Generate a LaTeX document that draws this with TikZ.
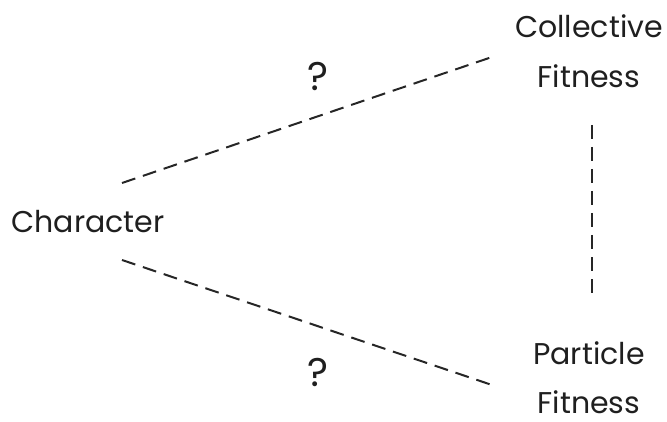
\documentclass[tikz,border=0pt]{standalone}
\usepackage{fontspec}
\setmainfont{Poppins}
\begin{document}
\begin{tikzpicture}[x=1pt,y=1pt,
  lbl/.style={font=\fontsize{30}{36}\selectfont, text=black!88, inner sep=0pt, anchor=base},
  qmark/.style={font=\fontsize{40}{40}\selectfont, text=black!88, inner sep=0pt},
  link/.style={draw=black!85, line width=2pt, dash pattern=on 14pt off 8pt}]
  \useasboundingbox (0,0) rectangle (667,421);
  % labels
  \node[lbl] (char) at (88,188) {Character};
  \node[lbl] (coll) at (589,383) {Collective};
  \node[lbl] (collF) at (589,333) {Fitness};
  \node[lbl] (part) at (589,57) {Particle};
  \node[lbl] (partF) at (589,8) {Fitness};
  \node[qmark] (q1) at (318,344) {?};
  \node[qmark] (q2) at (318,49) {?};
  % line ends
  \coordinate (charUp) at (122,238);
  \coordinate (charDn) at (122,161);
  \coordinate (collIn) at (492,364);
  \coordinate (partIn) at (492,36);
  \coordinate (collDn) at (592,296);
  \coordinate (partUp) at (592,121);
  % connectors
  \draw[link] (charUp) -- (collIn);
  \draw[link] (charDn) -- (partIn);
  \draw[link] (collDn) -- (partUp);
\end{tikzpicture}
\end{document}
